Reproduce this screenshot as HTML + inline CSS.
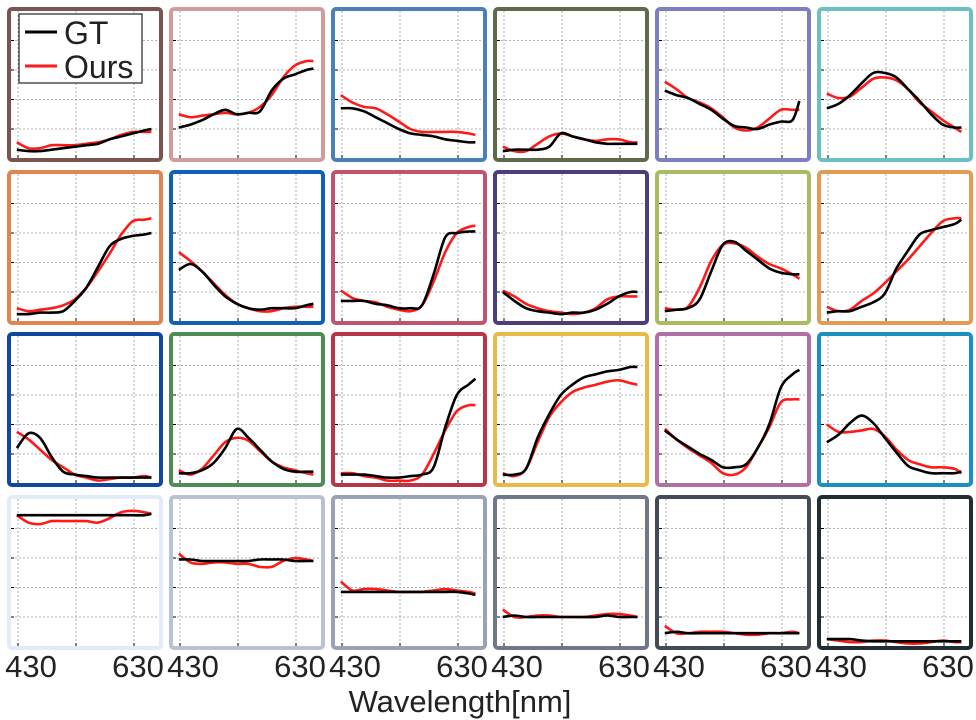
<!DOCTYPE html>
<html><head><meta charset="utf-8">
<style>
html,body{margin:0;padding:0;background:#fff;}
svg{display:block;font-family:"Liberation Sans",sans-serif;}
</style></head>
<body>
<svg id="chart" width="976" height="720" viewBox="0 0 976 720" xmlns="http://www.w3.org/2000/svg">
<text x="460" y="712" font-size="31" text-anchor="middle" fill="#222">Wavelength[nm]</text>
</svg>
<script>
const wavelengths=[428,448,468,488,508,528,548,568,588,608,628,648,660];
const xTicks=[430,530,630];
const xTickLabels=["430","630"];
const yTicks=[0.2,0.4,0.6,0.8];
const panelColors=["#7a5550","#d09c9c","#4a80b8","#5f6a4a","#7b80c4","#6cbfc2",
"#e08550","#1060b8","#c05272","#4d3d7c","#a9bc62","#e29a55",
"#1048a0","#4f8c55","#b83545","#e8bb48","#b070a4","#1a90c0",
"#e2ebfa","#b9c1d5","#9aa3b5","#6f7888","#434c56","#222d33"];
const gtSeries=[
[.06,.05,.05,.06,.07,.08,.09,.10,.13,.15,.17,.19,.20],
[.21,.23,.26,.30,.33,.30,.31,.32,.46,.54,.57,.60,.61],
[.34,.34,.32,.28,.24,.20,.17,.16,.15,.13,.12,.11,.11],
[.05,.06,.06,.06,.08,.17,.15,.13,.11,.10,.10,.10,.10],
[.46,.43,.41,.37,.33,.27,.22,.21,.20,.23,.25,.26,.39],
[.34,.37,.43,.51,.58,.58,.55,.47,.39,.30,.23,.21,.21],
[.05,.05,.06,.06,.07,.14,.23,.37,.51,.56,.58,.59,.60],
[.35,.39,.34,.25,.17,.12,.09,.08,.09,.09,.09,.11,.12],
[.14,.14,.14,.12,.11,.09,.09,.11,.32,.57,.60,.61,.61],
[.20,.14,.09,.07,.06,.05,.06,.06,.08,.12,.17,.20,.20],
[.07,.08,.09,.15,.34,.52,.54,.48,.42,.36,.33,.32,.32],
[.06,.07,.07,.10,.13,.19,.36,.48,.59,.62,.64,.66,.69],
[.24,.34,.31,.18,.08,.06,.05,.04,.04,.04,.04,.04,.04],
[.07,.07,.09,.14,.24,.37,.31,.23,.15,.10,.08,.08,.08],
[.06,.06,.06,.05,.04,.04,.05,.06,.11,.38,.60,.67,.71],
[.06,.06,.10,.31,.47,.60,.67,.72,.74,.76,.77,.79,.79],
[.36,.30,.25,.20,.16,.11,.11,.13,.24,.40,.65,.74,.77],
[.28,.33,.41,.46,.41,.31,.21,.12,.09,.07,.07,.07,.08],
[.89,.89,.89,.89,.89,.89,.89,.89,.89,.89,.89,.89,.90],
[.59,.59,.58,.58,.58,.58,.58,.59,.59,.59,.58,.58,.58],
[.37,.37,.37,.37,.37,.37,.37,.37,.37,.37,.37,.36,.35],
[.20,.21,.20,.20,.20,.20,.20,.20,.20,.21,.20,.20,.20],
[.09,.10,.09,.09,.09,.09,.09,.09,.09,.09,.09,.09,.09],
[.05,.05,.05,.04,.035,.035,.035,.035,.035,.035,.035,.035,.035]];
const oursSeries=[
[.11,.07,.07,.09,.09,.09,.10,.11,.13,.16,.18,.18,.18],
[.30,.28,.29,.30,.31,.30,.31,.35,.43,.55,.63,.66,.66],
[.43,.38,.35,.34,.30,.25,.20,.18,.18,.18,.18,.17,.16],
[.08,.05,.05,.10,.15,.17,.15,.13,.12,.13,.13,.11,.11],
[.52,.47,.41,.38,.34,.28,.21,.19,.21,.27,.33,.33,.33],
[.44,.41,.42,.48,.54,.55,.53,.47,.38,.32,.26,.21,.18],
[.09,.07,.08,.09,.11,.15,.23,.34,.46,.59,.68,.69,.70],
[.47,.41,.34,.26,.18,.12,.09,.07,.07,.09,.10,.10,.10],
[.21,.16,.14,.13,.10,.08,.07,.11,.27,.47,.60,.64,.65],
[.21,.17,.12,.09,.07,.06,.05,.06,.09,.15,.17,.17,.17],
[.09,.08,.10,.23,.41,.52,.53,.50,.44,.39,.36,.32,.29],
[.10,.07,.08,.14,.19,.26,.34,.42,.51,.60,.68,.70,.70],
[.35,.30,.23,.16,.11,.06,.04,.02,.03,.04,.04,.05,.04],
[.09,.06,.10,.19,.28,.31,.29,.22,.15,.11,.09,.07,.06],
[.07,.07,.05,.04,.02,.02,.02,.06,.20,.36,.49,.53,.53],
[.07,.05,.10,.28,.45,.55,.62,.65,.67,.69,.70,.68,.67],
[.37,.30,.24,.19,.14,.07,.06,.11,.24,.38,.55,.57,.57],
[.40,.35,.35,.36,.37,.32,.23,.16,.13,.11,.11,.10,.07],
[.89,.84,.83,.85,.85,.85,.85,.84,.87,.91,.92,.91,.90],
[.63,.57,.56,.57,.57,.56,.56,.54,.54,.58,.60,.59,.58],
[.44,.38,.39,.39,.38,.37,.37,.37,.38,.39,.38,.37,.36],
[.25,.20,.20,.21,.21,.20,.20,.20,.21,.22,.22,.21,.20],
[.14,.09,.09,.10,.10,.10,.09,.08,.08,.09,.09,.10,.09],
[.05,.04,.03,.03,.04,.04,.03,.02,.02,.03,.04,.03,.03]];

const NS="http://www.w3.org/2000/svg";
const svg=document.getElementById('chart');
const colLeft=[7,169,331,493,655,817];
const rowTop=[7,170,332,495];
const PW=156,PH=155;
function mk(tag,attrs,parent){const e=document.createElementNS(NS,tag);for(const k in attrs)e.setAttribute(k,attrs[k]);(parent||svg).appendChild(e);return e;}
function pathD(pts){
  let d="M"+pts[0][0].toFixed(1)+","+pts[0][1].toFixed(1);
  for(let i=0;i<pts.length-1;i++){
    const p0=pts[Math.max(0,i-1)],p1=pts[i],p2=pts[i+1],p3=pts[Math.min(pts.length-1,i+2)];
    const c1=[p1[0]+(p2[0]-p0[0])/6,p1[1]+(p2[1]-p0[1])/6];
    const c2=[p2[0]-(p3[0]-p1[0])/6,p2[1]-(p3[1]-p1[1])/6];
    d+=" C"+c1[0].toFixed(1)+","+c1[1].toFixed(1)+" "+c2[0].toFixed(1)+","+c2[1].toFixed(1)+" "+p2[0].toFixed(1)+","+p2[1].toFixed(1);
  }
  return d;
}
const defs=mk('defs',{});
for(let i=0;i<24;i++){
  const r=Math.floor(i/6),c=i%6;
  const L=colLeft[c],T=rowTop[r];
  const xs=w=>L+11+(w-430)*0.58;
  const ys=v=>T+151.5-v*147.5;
  const g=mk('g',{});
  
  
  const cp=mk('clipPath',{id:'cp'+i},defs);
  mk('rect',{x:L+3,y:T+3,width:PW-6,height:PH-6},cp);
  for(const v of yTicks){
    const gl=mk('line',{x1:L+4,x2:L+PW-4,y1:ys(v),y2:ys(v),stroke:'#999','stroke-width':0.8,'stroke-dasharray':'2,2'},g);
    
    
    const tk=mk('line',{x1:L+4,x2:L+7,y1:ys(v),y2:ys(v),stroke:'#000','stroke-width':1},g);
    
    
  }
  for(const w of xTicks){
    const gl=mk('line',{x1:xs(w),x2:xs(w),y1:T+4,y2:T+PH-4,stroke:'#999','stroke-width':0.8,'stroke-dasharray':'2,2'},g);
    
    
    const tk=mk('line',{x1:xs(w),x2:xs(w),y1:T+PH-7,y2:T+PH-4,stroke:'#000','stroke-width':1},g);
    
    
  }
  const gp=wavelengths.map((w,k)=>[xs(w),ys(gtSeries[i][k])]);
  const op=wavelengths.map((w,k)=>[xs(w),ys(oursSeries[i][k])]);
  const rl=mk('path',{d:pathD(op),fill:'none',stroke:'#ff1a1a','stroke-width':2.6,'stroke-linejoin':'round','clip-path':'url(#cp'+i+')'},g);
  
  
  const bl=mk('path',{d:pathD(gp),fill:'none',stroke:'#000','stroke-width':2.6,'stroke-linejoin':'round','clip-path':'url(#cp'+i+')'},g);
  
  
  const br=mk('rect',{x:L+2,y:T+2,width:PW-4,height:PH-4,rx:3,fill:'none',stroke:panelColors[i],'stroke-width':4},g);
  
  
  if(r===3){
    const t1=mk('text',{x:L+24,y:677,'font-size':31,'text-anchor':'middle',fill:'#222'},g);
    t1.textContent=xTickLabels[0];
    
    
    const t2=mk('text',{x:L+131,y:677,'font-size':31,'text-anchor':'middle',fill:'#222'},g);
    t2.textContent=xTickLabels[1];
    
    
  }
}
const lg=mk('g',{});


mk('rect',{x:19,y:14,width:123,height:69,fill:'#fff',stroke:'#222','stroke-width':1.2},lg);
mk('line',{x1:25,x2:57,y1:32,y2:32,stroke:'#000','stroke-width':3},lg);
mk('line',{x1:25,x2:57,y1:66,y2:66,stroke:'#ff1a1a','stroke-width':3},lg);
const lt1=mk('text',{x:64,y:44,'font-size':32,fill:'#222'},lg);
lt1.textContent='GT';


const lt2=mk('text',{x:64,y:78,'font-size':32,fill:'#222'},lg);
lt2.textContent='Ours';


</script>
</body></html>
